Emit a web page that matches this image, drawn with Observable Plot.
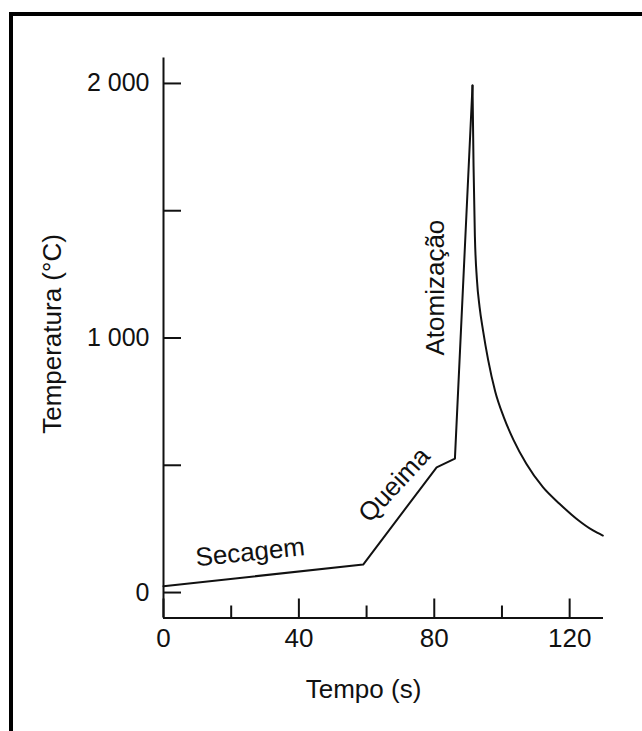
<!DOCTYPE html>
<html><head><meta charset="utf-8">
<script src="https://cdn.jsdelivr.net/npm/d3@7"></script>
<script src="https://cdn.jsdelivr.net/npm/@observablehq/plot@0.6"></script>
<style>
html,body{margin:0;padding:0;background:#fff;overflow:hidden;width:642px;height:731px}
#frame{position:absolute;left:9px;top:12px;width:700px;height:800px;border:4px solid #000;pointer-events:none}
#chart{position:absolute;left:0;top:0}
</style></head><body>
<div id="chart"></div><div id="frame"></div>
<script>
// Rising phases (drying, ashing, atomization ramp)
const riseTime = [0, 59, 80.7, 86.1, 91.3];
const riseTemp = [25, 110, 492, 526, 1992];
// Cooling after the atomization peak
const decayTime = [91.3, 91.6, 92.0, 92.6, 93.4, 94.4, 95.9, 98.0, 100.5, 103.4, 107.2, 112.1, 117.0, 122.0, 126.9, 129.8];
const decayTemp = [1992, 1680, 1400, 1230, 1120, 1030, 915, 790, 690, 600, 506, 414, 349, 290, 244, 224];
// Phase annotations
const phaseNames = ["Secagem", "Queima", "Atomização"];
const phaseTime = [25.6, 68.2, 80.5];
const phaseTemp = [158, 423, 1198];
const phaseAngle = [-6, -47, -90];
// Axes
const xMajorTicks = [0, 40, 80, 120];
const xMinorTicks = [20, 60, 100];
const yTicks = [0, 500, 1000, 1500, 2000];
const yTickLabels = ["0", "", "1 000", "", "2 000"];
const xDomain = [0, 130];
const yDomain = [-100, 2100];
const xTitle = "Tempo (s)";
const yTitle = "Temperatura (°C)";

const rise = riseTime.map((t, i) => ({t, T: riseTemp[i]}));
const decay = decayTime.map((t, i) => ({t, T: decayTemp[i]}));
const phases = phaseNames.map((name, i) => ({name, t: phaseTime[i], T: phaseTemp[i], a: phaseAngle[i]}));
const ink = "#111";

const chart = Plot.plot({
  width: 642, height: 731,
  marginLeft: 163, marginRight: 39, marginTop: 57.5, marginBottom: 113.5,
  x: {domain: xDomain},
  y: {domain: yDomain},
  style: {fontFamily: "'Liberation Sans', Arial, Helvetica, sans-serif", fontSize: "26px", color: ink, background: "transparent"},
  marks: [
    Plot.ruleX([xDomain[0]], {y1: yDomain[0], y2: yDomain[1], strokeWidth: 2, stroke: ink}),
    Plot.ruleY([yDomain[0]], {x1: xDomain[0], x2: xDomain[1], strokeWidth: 2, stroke: ink}),
    Plot.axisY(yTicks, {anchor: "left", tickSize: -18, tickPadding: 32, strokeWidth: 2,
      tickFormat: d => yTickLabels[yTicks.indexOf(d)], label: null, fontSize: 25}),
    Plot.axisX(xMajorTicks, {anchor: "bottom", tickSize: -19, tickPadding: 29.5, strokeWidth: 2,
      tickFormat: d => String(d), label: null, fontSize: 26}),
    Plot.axisX(xMinorTicks, {anchor: "bottom", tickSize: -12, strokeWidth: 2,
      tickFormat: () => "", label: null}),
    Plot.line(rise, {x: "t", y: "T", stroke: ink, strokeWidth: 2}),
    Plot.line(decay, {x: "t", y: "T", stroke: ink, strokeWidth: 2, curve: "monotone-x"}),
    Plot.text(phases, {x: "t", y: "T", text: "name", rotate: "a", fontSize: 26, fill: ink}),
    Plot.text([xTitle], {frameAnchor: "bottom", text: d => d, dy: 80, dx: -20, fontSize: 26, fill: ink}),
    Plot.text([yTitle], {frameAnchor: "left", textAnchor: "middle", lineAnchor: "middle", text: d => d, rotate: -90, dx: -111, dy: -4, fontSize: 26, fill: ink})
  ]
});
document.getElementById("chart").appendChild(chart);
</script>
</body></html>
